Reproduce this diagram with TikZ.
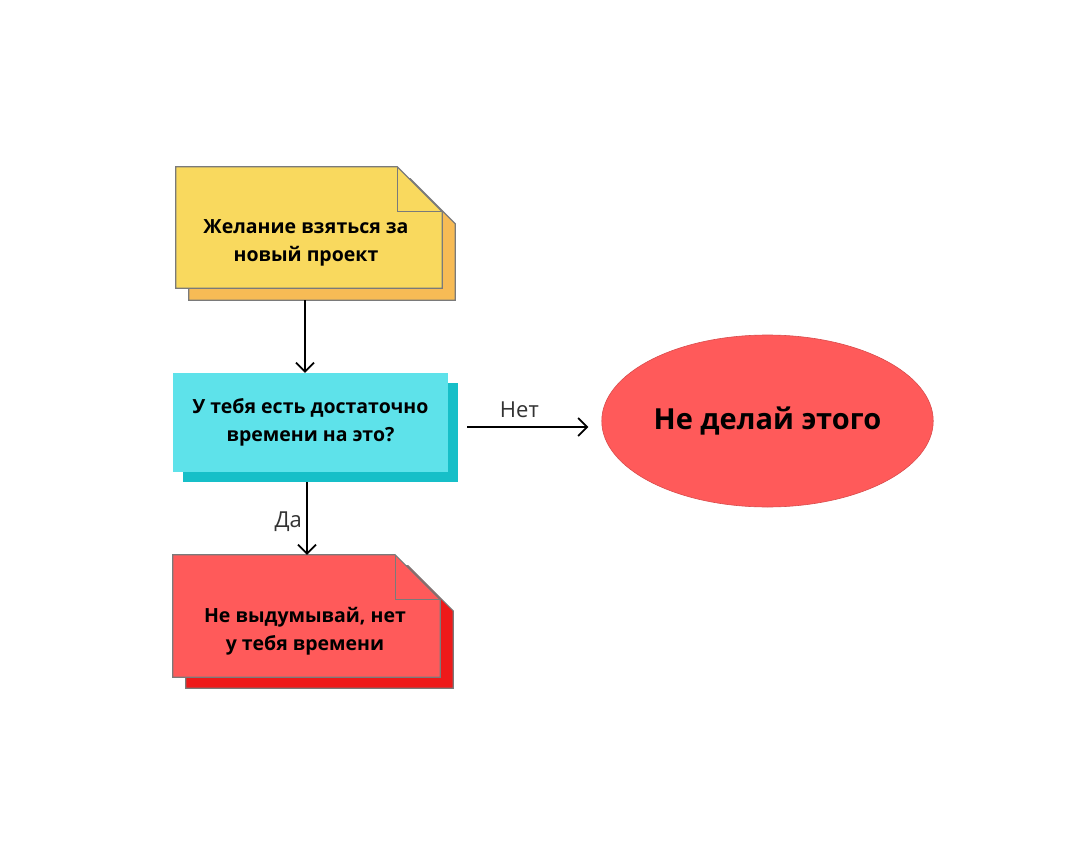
\documentclass[tikz,border=0pt]{standalone}
\usepackage{fontspec}
\setmainfont{Open Sans}
\newfontfamily\thinfont{Open Sans}
\usetikzlibrary{arrows.meta,shapes.geometric,shadows,backgrounds}
\definecolor{noteyellow}{HTML}{F9D95E}
\definecolor{noteorange}{HTML}{F7BB55}
\definecolor{boxcyan}{HTML}{5EE2EA}
\definecolor{boxteal}{HTML}{16BFC8}
\definecolor{notered}{HTML}{FF5A5A}
\definecolor{notedark}{HTML}{EE1A1A}
\definecolor{edgegrey}{HTML}{7A7A7A}
\newcommand{\foldsz}{45pt}
% sheet with a folded corner, drawn round a node: name, front, back, shift
\newcommand{\dognote}[4]{
    \filldraw[fill=#3, draw=edgegrey, line width=1.2pt] ([shift={(#4)}]#1.north west) -- ([shift={(#4)},xshift=-\foldsz]#1.north east)
        -- ([shift={(#4)},yshift=-\foldsz]#1.north east) -- ([shift={(#4)}]#1.south east) -- ([shift={(#4)}]#1.south west) -- cycle;
    \filldraw[fill=#2, draw=edgegrey, line width=1.2pt] (#1.north west) -- ([xshift=-\foldsz]#1.north east)
        -- ([yshift=-\foldsz]#1.north east) -- (#1.south east) -- (#1.south west) -- cycle;
    \draw[edgegrey, line width=1.2pt] ([xshift=-\foldsz]#1.north east) |- ([yshift=-\foldsz]#1.north east);
}

\begin{document}
\begin{tikzpicture}[x=1pt, y=-1pt,
    notetext/.style={font=\bfseries\fontsize{19.5}{28}\selectfont, align=center, text=black},
    arr/.style={-{Straight Barb[length=9pt,width=18pt]}, line width=1.8pt},
    lbl/.style={font=\thinfont\fontsize{22}{24}\selectfont, text=black!80}]
    %\draw[help lines] (0,0) grid[step=50] (1080,843);
    \useasboundingbox (0,0) rectangle (1080,843);
    \node[notetext, minimum width=266pt, minimum height=121pt, inner sep=0pt] (want) at (309,227.5) {};
    \node[notetext] at (306,243) {Желание взяться за\\новый проект};
    \node[notetext, fill=boxcyan, minimum width=275pt, minimum height=99pt, inner sep=0pt,
        drop shadow={shadow xshift=10pt, shadow yshift=-10pt, shadow scale=1, fill=boxteal, opacity=1}] (time) at (310.5,422.5)
        {У тебя есть достаточно\\времени на это?};
    \node[notetext, minimum width=267pt, minimum height=122pt, inner sep=0pt] (excuse) at (306.5,616) {};
    \node[notetext] at (305,631) {Не выдумывай, нет\\у тебя времени};
    \node[ellipse, fill=notered, draw=notered!85!black, line width=0.6pt, minimum width=331pt, minimum height=172pt,
        font=\bfseries\fontsize{29}{32}\selectfont] (stop) at (767.5,421) {Не делай этого};
    \begin{scope}[on background layer]
        \dognote{want}{noteyellow}{noteorange}{13,12}
        \dognote{excuse}{notered}{notedark}{13,11}
    \end{scope}
    \draw[arr] ([xshift=-4pt,yshift=-12pt]want.south) -- ([xshift=-5.5pt]time.north);
    \draw[arr] ([xshift=19pt,yshift=-4.5pt]time.east) -- node[lbl, above=5pt, pos=0.43] {Нет} ([xshift=-13pt,yshift=-6pt]stop.west);
    \draw[arr] ([xshift=-3.5pt,yshift=-10pt]time.south) -- node[lbl, left=1pt, pos=0.55] {Да} ([xshift=0.5pt]excuse.north);
\end{tikzpicture}
\end{document}
